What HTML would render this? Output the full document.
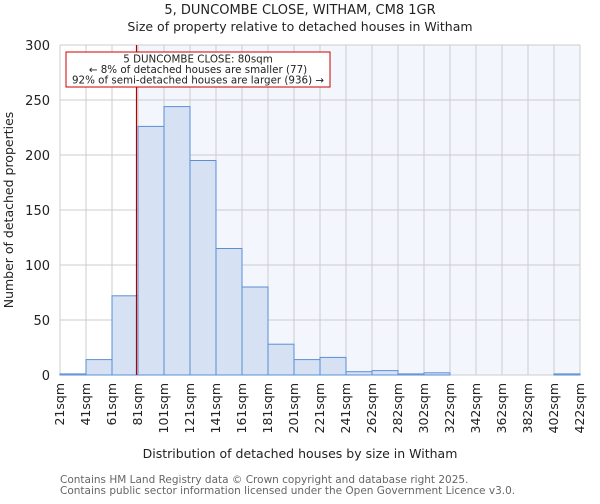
<!DOCTYPE html>
<html><head><meta charset="utf-8"><style>
body{margin:0;background:#fff;font-family:"DejaVu Sans","Liberation Sans",sans-serif;}
svg text{font-family:"DejaVu Sans","Liberation Sans",sans-serif;fill:#222;}
</style></head><body>
<svg id="chart" width="600" height="500" xmlns="http://www.w3.org/2000/svg">
<text x="300" y="14" font-size="13" text-anchor="middle">5, DUNCOMBE CLOSE, WITHAM, CM8 1GR</text>
<text x="300" y="31" font-size="12.5" text-anchor="middle">Size of property relative to detached houses in Witham</text>
<g id="plot"></g>
<text x="300" y="458" font-size="12.5" text-anchor="middle">Distribution of detached houses by size in Witham</text>
<text x="13" y="210" font-size="12.5" text-anchor="middle" transform="rotate(-90 13 210)">Number of detached properties</text>
<text x="60" y="483" font-size="10.5" style="fill:#666">Contains HM Land Registry data © Crown copyright and database right 2025.</text>
<text x="60" y="494" font-size="10.5" style="fill:#666">Contains public sector information licensed under the Open Government Licence v3.0.</text>
</svg>
<script>
const labels=["21sqm","41sqm","61sqm","81sqm","101sqm","121sqm","141sqm","161sqm","181sqm","201sqm","221sqm","241sqm","262sqm","282sqm","302sqm","322sqm","342sqm","362sqm","382sqm","402sqm","422sqm"];
const counts=[1,14,72,226,244,195,115,80,28,14,16,3,4,1,2,0,0,0,0,1];
const yTicks=[0,50,100,150,200,250,300];
const propertySize=80;
const binStart=21, binWidth=20.05;
const L=60,R=580,T=45,B=375,yMax=300;
const NS="http://www.w3.org/2000/svg";
const g=document.getElementById('plot');
const n=counts.length;
const xi=i=>L+(R-L)*i/n;
const xv=v=>xi((v-binStart)/binWidth);
const y=v=>B-(B-T)*v/yMax;
function mk(t,a,p){const e=document.createElementNS(NS,t);for(const k in a)e.setAttribute(k,a[k]);(p||g).appendChild(e);return e;}
const px=xv(propertySize);
let e=mk('rect',{x:L,y:T,width:R-L,height:B-T,fill:'#fff'});


e=mk('rect',{x:px,y:T,width:R-px,height:B-T,fill:'#f3f6fd'});


for(let i=0;i<=n;i++){e=mk('line',{x1:xi(i),x2:xi(i),y1:T,y2:B,stroke:'#ccc','stroke-width':1});

}
yTicks.forEach(t=>{e=mk('line',{x1:L,x2:R,y1:y(t),y2:y(t),stroke:'#ccc','stroke-width':1});


e=mk('text',{x:L-10,y:y(t)+5,'font-size':13,'text-anchor':'end'});e.textContent=t;

});
counts.forEach((c,i)=>{e=mk('rect',{x:xi(i),y:y(c),width:xi(i+1)-xi(i),height:B-y(c),fill:'#d6e1f3',stroke:'#5b8fd6','stroke-width':1});

});
labels.forEach((l,i)=>{const x=xi(i)+4;e=mk('text',{x:x,y:B+8,'font-size':12.5,'text-anchor':'end',transform:`rotate(-90 ${x} ${B+8})`});e.textContent=l;

});
e=mk('line',{x1:px,x2:px,y1:T,y2:B,stroke:'#b00000','stroke-width':1.2});


e=mk('rect',{x:66,y:52,width:264,height:35,fill:'#fff',stroke:'#c00','stroke-width':1});


["5 DUNCOMBE CLOSE: 80sqm","← 8% of detached houses are smaller (77)","92% of semi-detached houses are larger (936) →"].forEach((s,i)=>{e=mk('text',{x:198,y:62.5+i*10.5,'font-size':10.3,'text-anchor':'middle'});e.textContent=s;

});
</script>
</body></html>
